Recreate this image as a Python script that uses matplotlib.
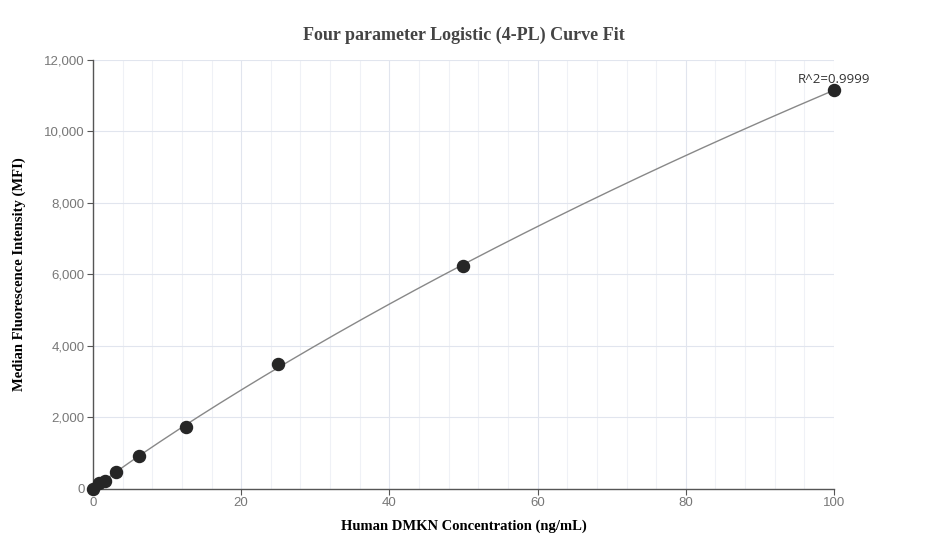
import numpy as np
import matplotlib
matplotlib.use('Agg')
from matplotlib import pyplot as plt
from matplotlib.ticker import FuncFormatter, MultipleLocator

# Datos
conc = [100, 50, 25, 12.5, 6.25, 3.125, 1.5625, 0.78, 0]
mfi = [11160, 6240, 3490, 1740, 920, 470, 215, 160, 0]
r2_text = "R^2=0.9999"
title = "Four parameter Logistic (4-PL) Curve Fit"
xlabel = "Human DMKN Concentration (ng/mL)"
ylabel = "Median Fluorescence Intensity (MFI)"


def fit_4pl(x, y):
    """Ajuste 4PL sencillo: rejilla en b, c y mínimos cuadrados para a, d."""
    x = np.asarray(x, float)
    y = np.asarray(y, float)
    best = None
    for b in np.linspace(0.8, 1.6, 81):
        for c in np.geomspace(50, 5000, 200):
            g = 1.0 / (1.0 + (x / c) ** b)
            A = np.column_stack([g, 1 - g])
            coef, *_ = np.linalg.lstsq(A, y, rcond=None)
            err = np.sum((A @ coef - y) ** 2)
            if best is None or err < best[0]:
                best = (err, coef[0], b, c, coef[1])
    return best[1:]


a, b, c, d = fit_4pl(conc, mfi)
xs = np.linspace(0, max(conc), 400)
ys = d + (a - d) / (1 + (xs / c) ** b)

fig = plt.figure(figsize=(9.27, 5.6), dpi=100)
ax = fig.add_axes([0.1003, 0.1268, 0.7994, 0.7661])

ax.plot(xs, ys, color='#888888', lw=1, zorder=2)
ax.scatter(conc, mfi, s=75, color='#262626', zorder=3, clip_on=False)

ax.set_xlim(0, 100)
ax.set_ylim(0, 12000)
ax.xaxis.set_major_locator(MultipleLocator(20))
ax.xaxis.set_minor_locator(MultipleLocator(4))
ax.yaxis.set_major_locator(MultipleLocator(2000))
ax.yaxis.set_major_formatter(FuncFormatter(lambda v, p: f"{int(v):,}"))

ax.grid(which='major', color='#e1e5ee', lw=0.8, zorder=0)
ax.grid(which='minor', axis='x', color='#eff1f6', lw=0.8, zorder=0)
ax.set_axisbelow(True)

for s in ['top', 'right']:
    ax.spines[s].set_visible(False)
for s in ['left', 'bottom']:
    ax.spines[s].set_color('#555555')
    ax.spines[s].set_linewidth(1)

ax.tick_params(which='major', length=4, color='#555555', labelcolor='#777777',
               labelsize=9.5, pad=2)
ax.tick_params(which='minor', length=0)
for lab in ax.get_xticklabels() + ax.get_yticklabels():
    lab.set_family('Liberation Sans')

ax.set_xlabel(xlabel, family='Liberation Serif', fontweight='bold', fontsize=10.5,
              color='black', labelpad=7)
ax.set_ylabel(ylabel, family='Liberation Serif', fontweight='bold', fontsize=10.5,
              color='black')
ax.yaxis.set_label_coords(-0.09, 0.5)
fig.text(0.5, 0.937, title, ha='center', va='center', family='Liberation Serif',
         fontweight='bold', fontsize=13, color='#444444')

ax.annotate(r2_text, (conc[0], mfi[0]), xytext=(0, 3), textcoords='offset points',
            ha='center', va='bottom', family='Open Sans', fontsize=9.5,
            color='#333333')

fig.savefig('out.png', dpi=100)
